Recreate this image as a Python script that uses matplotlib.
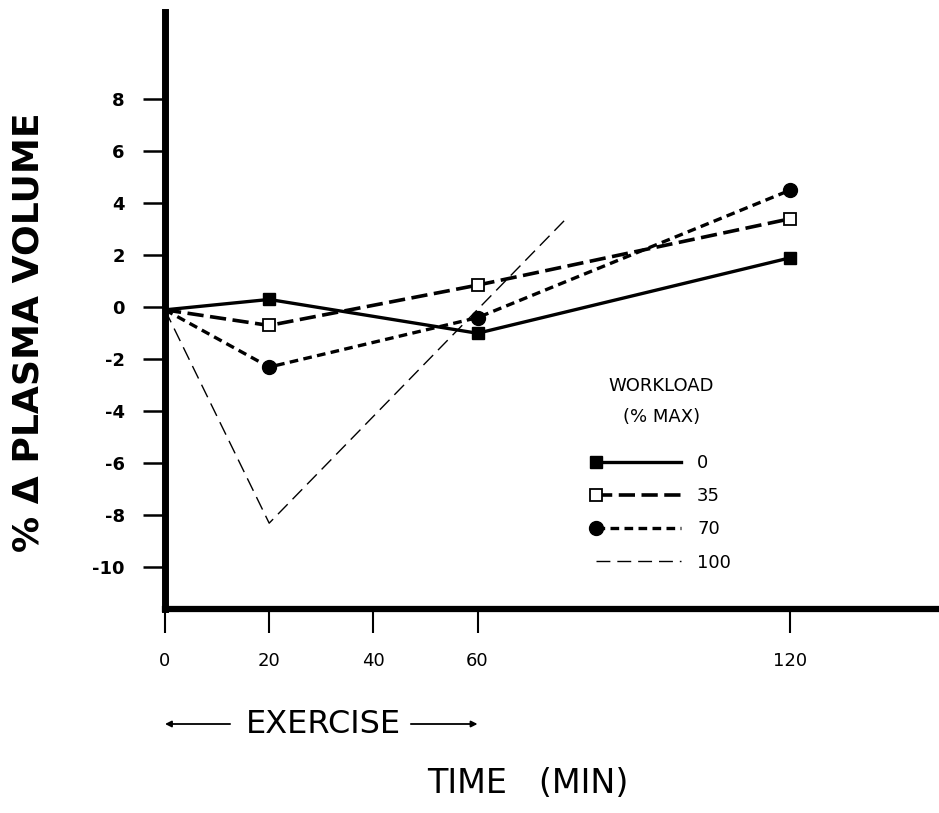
import matplotlib
matplotlib.use('Agg')
import matplotlib.pyplot as plt
import matplotlib.transforms as mtransforms
from matplotlib.legend_handler import HandlerLine2D
import numpy as np

plt.rcParams['font.family'] = ['DejaVu Sans']

# time after start of exercise (min) and % change in plasma volume per workload
time = [0, 20, 60, 120]
pv_0 = [-0.1, 0.3, -1.0, 1.9]
pv_35 = [-0.1, -0.7, 0.85, 3.4]
pv_70 = [-0.1, -2.3, -0.4, 4.5]
time_100 = [0, 20, 77]
pv_100 = [-0.1, -8.3, 3.4]
exercise = [0, 60]

xticks = [0, 20, 40, 60, 120]
yticks = [-10, -8, -6, -4, -2, 0, 2, 4, 6, 8]
workloads = ['0', '35', '70', '100']


class StartMarker(HandlerLine2D):
    # legend sample with the marker at the left end of the line
    def create_artists(self, *args, **kwargs):
        arts = super().create_artists(*args, **kwargs)
        for a in arts:
            a.set_markevery([0])
        return arts


fig = plt.figure(figsize=(9.39, 8.13), dpi=100)
ax = fig.add_axes([165/939, 204/813, 774/939, 597/813])

l0, = ax.plot(time, pv_0, color='black', lw=2.4, marker='s', ms=8,
              markevery=[1, 2, 3])
l35, = ax.plot(time, pv_35, color='black', lw=2.6, dashes=(4.5, 1.8),
               marker='s', ms=9, mfc='white', mec='black', mew=1.3,
               markevery=[1, 2, 3])
l70, = ax.plot(time, pv_70, color='black', lw=2.4, dashes=(2.6, 1.6),
               marker='o', ms=10, markevery=[1, 2, 3])
l100, = ax.plot(time_100, pv_100, color='black', lw=1.0, dashes=(10, 5))

ax.set_xlim(0, 148.6)
ax.set_ylim(-11.6, 11.35)
ax.set_xticks(xticks)
ax.set_yticks(yticks)
ax.set_yticklabels([str(v) for v in yticks], fontweight='bold')
ax.spines['top'].set_visible(False)
ax.spines['right'].set_visible(False)
ax.spines['left'].set_linewidth(5)
ax.spines['bottom'].set_linewidth(4.5)
ax.tick_params(axis='y', length=16, width=1.8, pad=13, labelsize=13)
ax.tick_params(axis='x', length=17, width=1.5, pad=14, labelsize=13)

ax.set_ylabel('% \u0394 PLASMA VOLUME', fontsize=26, fontweight='bold')
ax.yaxis.set_label_coords(-0.154, 0.464)

leg = ax.legend([l0, l35, l70, l100], workloads,
                frameon=False, fontsize=13,
                handlelength=4.7, handletextpad=0.9, labelspacing=0.84,
                borderpad=0, numpoints=1, loc='upper left',
                bbox_to_anchor=(587/939, 1 - 445/813),
                bbox_transform=fig.transFigure,
                handler_map={l0: StartMarker(), l35: StartMarker(),
                             l70: StartMarker(), l100: StartMarker()})
fig.text(661/939, 1 - 386/813, 'WORKLOAD', fontsize=13, ha='center',
         va='center')
fig.text(662/939, 1 - 417/813, '(% MAX)', fontsize=13, ha='center',
         va='center')

# exercise period arrows under the axis
ex_trans = mtransforms.blended_transform_factory(ax.transData, fig.transFigure)
ex_y = 1 - 724/813
ax.text(np.mean(exercise) + 0.5, ex_y, 'EXERCISE', fontsize=23,
        ha='center', va='center', transform=ex_trans, clip_on=False)
ax.annotate('', xy=(exercise[0], ex_y), xytext=(exercise[0] + 12.5, ex_y),
            xycoords=ex_trans, textcoords=ex_trans,
            arrowprops=dict(arrowstyle='-|>', lw=1.3, color='black',
                            mutation_scale=9, shrinkA=0, shrinkB=0))
ax.annotate('', xy=(exercise[1], ex_y), xytext=(exercise[1] - 12.8, ex_y),
            xycoords=ex_trans, textcoords=ex_trans,
            arrowprops=dict(arrowstyle='-|>', lw=1.3, color='black',
                            mutation_scale=9, shrinkA=0, shrinkB=0))

fig.text(528/939, 1 - 783/813, 'TIME   (MIN)', fontsize=24,
         ha='center', va='center')

fig.savefig('out.png', dpi=100)
